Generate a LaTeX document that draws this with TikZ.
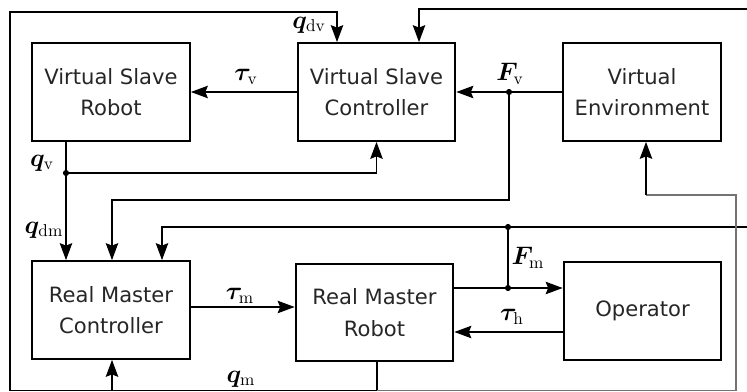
\documentclass[tikz,border=0pt]{standalone}
\usepackage{fontspec}
\usepackage{amsmath,bm}
\newfontfamily\blockfont{DejaVu Sans}
\usetikzlibrary{arrows.meta}
\begin{document}
\begin{tikzpicture}[x=0.02cm, y=-0.02cm,
          block/.style={draw, line width=1.3pt, minimum width=3.15cm, minimum height=1.95cm, inner sep=0pt,
            align=center, text=black!85, font=\blockfont\fontsize{12}{18}\selectfont},
          wire/.style={line width=0.7pt},
          sig/.style={wire, -{Stealth[length=3.4mm,width=2.5mm,inset=0.5mm]}},
          far/.style={line width=0.6pt, draw=black!55},
          lbl/.style={font=\fontsize{14}{16}\selectfont},
          dot/.style={circle, fill, inner sep=0pt, minimum size=3.5pt}]
        \useasboundingbox (0,0) rectangle (747,392);
        \node[block] (vsr) at (111,92) {Virtual Slave\\Robot};
        \node[block] (vsc) at (376.5,92) {Virtual Slave\\Controller};
        \node[block] (ve) at (642,92) {Virtual\\Environment};
        \node[block] (rmc) at (111,310) {Real Master\\Controller};
        \node[block] (rmr) at (374.5,312.5) {Real Master\\Robot};
        \node[block] (op) at (642.5,311) {Operator};
        \coordinate (jv) at (66,173);
        \coordinate (jf) at (509,92);
        \coordinate (jm) at (508,227);
        \coordinate (jfm) at (508,288);
        \coordinate (bl) at (10,390.5);
        \coordinate (br) at (736,390.5);
        \coordinate (qm) at (377,390.5);
        \coordinate (in1) at (747,9);
        \coordinate (in2) at (747,227);
        % virtual side
        \draw[sig] (bl) |- (337,12) -- (vsc.north -| 337,0);
        \draw[sig] (in1) -| (vsc.north -| 419,0);
        \draw[sig] (vsc.west) -- (vsr.east);
        \draw[sig] (ve.west) -- (vsc.east);
        \draw[sig] (vsr.south -| jv) -- (rmc.north -| jv);
        \draw[sig] (jv) -| (vsc.south);
        \draw[sig] (jf) |- (112,200) -- (rmc.north -| 112,0);
        % real side
        \draw[sig] (in2) -| (rmc.north -| 162,0);
        \draw[wire] (jm) -- (jfm);
        \draw[sig] (rmc.east |- 0,307) -- (rmr.west |- 0,307);
        \draw[sig] (rmr.east |- jfm) -- (op.west |- jfm);
        \draw[sig] (op.west |- 0,332) -- (rmr.east |- 0,332);
        \draw[wire] (rmr.south -| qm) -- (qm);
        \draw[wire] (bl) -- (qm);
        \draw[far] (qm) -- (br);
        \draw[sig] (112,390.5) -- (rmc.south -| 112,0);
        \draw[far] (br) |- (646,195);
        \draw[sig] (646,195) -- (ve.south -| 646,0);
        \node[dot] (djv) at (jv) {};
        \node[dot] (djf) at (jf) {};
        \node[dot] (djm) at (jm) {};
        \node[dot] (djfm) at (jfm) {};
        \node[lbl] (lqdv) at (309,25) {$\bm{q}_{\mathrm{dv}}$};
        \node[lbl] (ltauv) at (246,77) {$\bm{\tau}_{\mathrm{v}}$};
        \node[lbl] (lfv) at (510,74) {$\bm{F}_{\mathrm{v}}$};
        \node[lbl] (lqv) at (42,163) {$\bm{q}_{\mathrm{v}}$};
        \node[lbl] (lqdm) at (44,230) {$\bm{q}_{\mathrm{dm}}$};
        \node[lbl] (ltaum) at (240,296) {$\bm{\tau}_{\mathrm{m}}$};
        \node[lbl] (lfm) at (528,258) {$\bm{F}_{\mathrm{m}}$};
        \node[lbl] (ltauh) at (512,317) {$\bm{\tau}_{\mathrm{h}}$};
        \node[lbl] (lqm) at (241,379) {$\bm{q}_{\mathrm{m}}$};
      \end{tikzpicture}
\end{document}
